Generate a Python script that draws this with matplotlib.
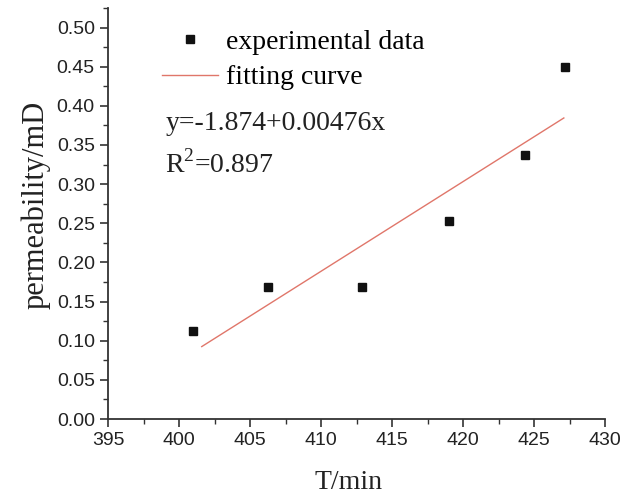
import matplotlib
matplotlib.use('Agg')
import matplotlib.pyplot as plt
from matplotlib.ticker import MultipleLocator

plt.rcParams['mathtext.fontset'] = 'custom'
plt.rcParams['mathtext.rm'] = 'Liberation Serif'

# experimental points
T = [401.0, 406.3, 412.9, 419.0, 424.4, 427.2]
perm = [0.113, 0.169, 0.169, 0.253, 0.337, 0.449]

# fitted line end points as drawn
fit_T = [401.6, 427.1]
fit_perm = [0.0925, 0.3845]

serif = ['Liberation Serif', 'DejaVu Serif']
sans = ['Liberation Sans Narrow', 'Liberation Sans', 'DejaVu Sans']

fig = plt.figure(figsize=(6.38, 4.98), dpi=100)
ax = fig.add_axes([0.1693, 0.1586, 0.779, 0.8254])

ax.plot(fit_T, fit_perm, color='#e0766a', lw=1.0, label='fitting curve')
ax.plot(T, perm, ls='none', marker='s', ms=6, color='#111111', label='experimental data')

ax.set_xlim(395, 430)
ax.set_ylim(0, 0.525)
ax.xaxis.set_major_locator(MultipleLocator(5))
ax.xaxis.set_minor_locator(MultipleLocator(2.5))
ax.yaxis.set_major_locator(MultipleLocator(0.05))
ax.yaxis.set_minor_locator(MultipleLocator(0.025))
ax.yaxis.set_major_formatter(matplotlib.ticker.FormatStrFormatter('%.2f'))

for s in ['top', 'right']:
    ax.spines[s].set_visible(False)
for s in ['left', 'bottom']:
    ax.spines[s].set_linewidth(1.3)
    ax.spines[s].set_color('#333333')
ax.tick_params(which='major', length=6, width=1.2, color='#333333', direction='out')
ax.tick_params(which='minor', length=3.5, width=1.0, color='#333333', direction='out')
for lab in ax.get_xticklabels() + ax.get_yticklabels():
    lab.set_family(sans)
    lab.set_fontsize(14)
    lab.set_color('#222222')

ax.set_xlabel('T/min', family=serif, fontsize=20, color='#222222')
ax.xaxis.set_label_coords(0.485, -0.125)
ax.set_ylabel('permeability/mD', family=serif, fontsize=22, color='#222222')
ax.yaxis.set_label_coords(-0.116, 0.52)

h, l = ax.get_legend_handles_labels()
ax.legend(h[::-1], l[::-1], loc='upper left', bbox_to_anchor=(0.109, 0.948), frameon=False,
          prop={'family': serif, 'size': 20}, handlelength=2.0, handletextpad=0.3,
          labelspacing=0.36, borderaxespad=0, borderpad=0)

ax.text(0.115, 0.72, 'y=-1.874+0.00476x', transform=ax.transAxes, family=serif,
        fontsize=20, color='#222222', va='center')
ax.text(0.115, 0.62, r'R$^\mathrm{2}$=0.897', transform=ax.transAxes, family=serif,
        fontsize=20, color='#222222', va='center')

fig.savefig('out.png', dpi=100)
